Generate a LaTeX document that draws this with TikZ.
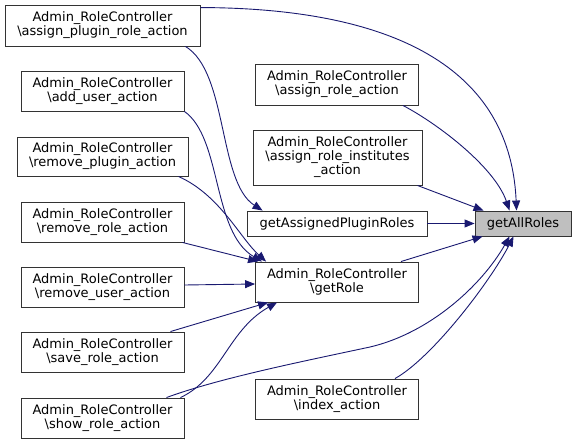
\documentclass[tikz,border=0pt]{standalone}
\usepackage{fontspec}
\setmainfont{DejaVu Sans}
\usetikzlibrary{arrows.meta,calc}
\definecolor{edgeblue}{HTML}{191970}
\definecolor{nodegray}{HTML}{BFBFBF}
\begin{document}
\begin{tikzpicture}[x=1pt,y=-1pt,
  box/.style={draw=black!80, line width=0.9pt, fill=white, inner sep=0pt, align=center,
    font=\fontsize{13}{14}\selectfont, minimum width=163pt, minimum height=40pt},
  call/.style={draw=edgeblue, line width=0.9pt, -{Triangle[length=10pt,width=8pt]}}]
\useasboundingbox (0,0) rectangle (576,444);
% callers (left column)
\node[box, minimum width=195pt, minimum height=41pt] (apra) at (102.5,25.5) {Admin\_RoleController\\\textbackslash assign\_plugin\_role\_action};
\node[box] (aua) at (102.5,91) {Admin\_RoleController\\\textbackslash add\_user\_action};
\node[box, minimum width=171pt, minimum height=39pt] (rpa) at (102.5,156.5) {Admin\_RoleController\\\textbackslash remove\_plugin\_action};
\node[box] (rra) at (102.5,222) {Admin\_RoleController\\\textbackslash remove\_role\_action};
\node[box] (rua) at (102.5,287) {Admin\_RoleController\\\textbackslash remove\_user\_action};
\node[box] (sra) at (102.5,352) {Admin\_RoleController\\\textbackslash save\_role\_action};
\node[box] (shra) at (102.5,418) {Admin\_RoleController\\\textbackslash show\_role\_action};
% middle column
\node[box, minimum height=41pt] (ara) at (337,84.5) {Admin\_RoleController\\\textbackslash assign\_role\_action};
\node[box, minimum width=169pt, minimum height=55pt] (aria) at (337.5,157.5) {Admin\_RoleController\\\textbackslash assign\_role\_institutes\\\_action};
\node[box, minimum width=180pt, minimum height=25pt] (gapr) at (337,223.5) {getAssignedPluginRoles};
\node[box] (gr) at (337,282) {Admin\_RoleController\\\textbackslash getRole};
\node[box] (ia) at (337,399) {Admin\_RoleController\\\textbackslash index\_action};
% target
\node[box, fill=nodegray, minimum width=96pt, minimum height=25pt] (gar) at (523,223.5) {getAllRoles};
% connectors
\draw[call] ($(apra.north east)+(0,3)$) .. controls (380,8) and (510,60) .. ($(gar.north west)+(42,0)$);
\draw[call] ($(apra.south east)+(-15,0)$) .. controls (228,72) and (218,182) .. ($(gapr.north west)+(16,0)$);
\draw[call] (aua.south east) .. controls (222,138) and (212,232) .. ($(gr.north west)+(7,0)$);
\draw[call] ($(rpa.south east)+(-10,0)$) .. controls (220,195) and (240,238) .. ($(gr.north west)+(11,0)$);
\draw[call] ($(rra.south east)+(-2,0)$) -- ($(gr.north west)+(3,0)$);
\draw[call] ($(rua.east)+(0,-2)$) -- ($(gr.west)+(0,2)$);
\draw[call] ($(sra.north east)+(-14,0)$) -- ($(gr.south west)+(13,0)$);
\draw[call] ($(shra.north east)+(-4,0)$) .. controls (222,378) and (228,330) .. ($(gr.south west)+(22,0)$);
\draw[call] ($(shra.north east)+(-18,0)$) .. controls (220,378) and (300,362) .. (370,347) .. controls (430,333) and (482,285) .. ($(gar.south west)+(35,0)$);
\draw[call] ($(ara.south east)+(-16,0)$) .. controls (440,125) and (495,168) .. ($(gar.north west)+(35,0)$);
\draw[call] ($(aria.south east)+(-5,0)$) -- ($(gar.north west)+(9,0)$);
\draw[call] (gapr.east) -- (gar.west);
\draw[call] ($(gr.north east)+(-18,0)$) -- ($(gar.south west)+(8,0)$);
\draw[call] ($(ia.north east)+(-24,0)$) .. controls (432,358) and (490,282) .. ($(gar.south west)+(39,0)$);
\end{tikzpicture}
\end{document}
